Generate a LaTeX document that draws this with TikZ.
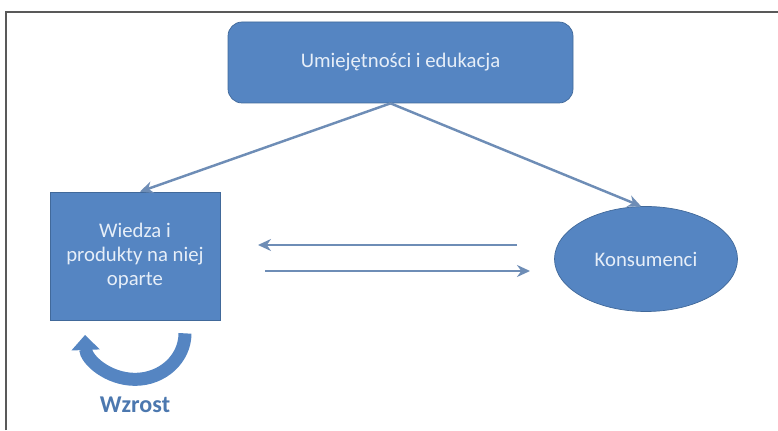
\documentclass[tikz,border=0pt]{standalone}
\usepackage{fontspec}
\setmainfont{Carlito}
\usetikzlibrary{shapes.geometric, arrows.meta, positioning}
\definecolor{boxblue}{HTML}{5585C2}
\definecolor{edgeblue}{HTML}{41699A}
\definecolor{arrblue}{HTML}{6E8DB6}
\definecolor{txtlight}{HTML}{E6EEF8}

\begin{document}
\begin{tikzpicture}[
    box/.style={draw=edgeblue, fill=boxblue, text=txtlight, font=\fontsize{11.8}{13.4}\selectfont, align=center},
    arr/.style={-{Stealth[length=2.6mm, width=2.4mm]}, line width=1.4pt, arrblue},
    growth/.style={-{Triangle[length=3mm, width=5.5mm]}, line width=2.6mm, boxblue},
]
\useasboundingbox (0,0) rectangle (15.56,8.6);

% frame
\draw[gray!70!black, line width=0.6pt] (0.12,0) -- (0.12,8.36) -- (15.56,8.36);

% nodes
\node[box, rounded corners=8pt, minimum width=6.9cm, minimum height=1.62cm] (skills) at (8.01,7.35) {Umiejętności i edukacja};
\node[box, minimum width=3.4cm, minimum height=2.56cm] (wiedza) at (2.7,3.48) {Wiedza i\\produkty na niej\\oparte};
\node[box, ellipse, minimum width=3.66cm, minimum height=2.1cm] (kons) at (12.92,3.42) {Konsumenci};
\node[font=\fontsize{13.7}{15}\selectfont\bfseries, text=boxblue!90!black, below=1.4cm of wiedza] (wzrost) {Wzrost};

% arrows from the top box
\coordinate[xshift=-0.2cm] (split) at (skills.south);
\draw[arr] (split) -- ([xshift=0.1cm]wiedza.north);
\draw[arr] (split) -- ([xshift=-0.1cm]kons.north);

% exchange between the two
\coordinate (back1) at (10.34,3.7);
\coordinate (back2) at (5.16,3.7);
\coordinate (fwd1) at (5.3,3.18);
\coordinate (fwd2) at (10.6,3.18);
\draw[arr] (back1) -- (back2);
\draw[arr] (fwd1) -- (fwd2);

% growth loop
\coordinate (loop) at ([xshift=1.0cm, yshift=-0.26cm]wiedza.south);
\draw[growth] (loop) arc[start angle=0, end angle=-178, x radius=1.0cm, y radius=0.92cm];

\end{tikzpicture}
\end{document}
